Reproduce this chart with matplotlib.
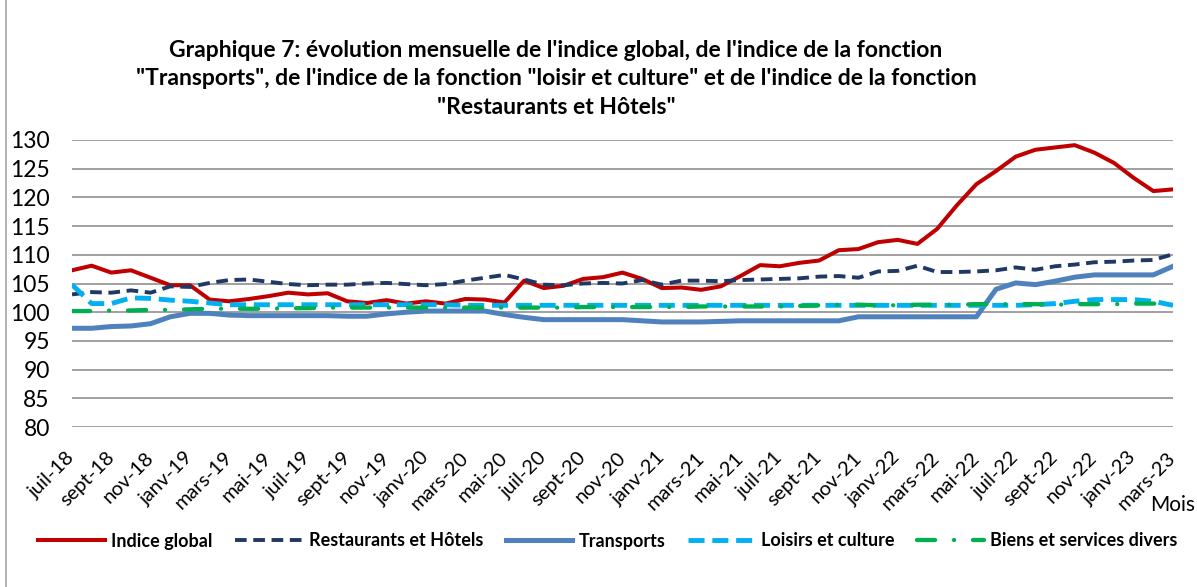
import matplotlib
matplotlib.use('Agg')
import matplotlib.pyplot as plt
from matplotlib.lines import Line2D

plt.rcParams['font.family'] = ['Lato', 'DejaVu Sans']

# Monthly index values, juil-18 .. mars-23
indice_global = [107.3, 108.1, 106.9, 107.3, 106.0, 104.7, 104.7, 102.2, 101.9, 102.3,
                 102.8, 103.4, 103.1, 103.3, 101.9, 101.6, 102.1, 101.5, 101.9, 101.5,
                 102.3, 102.2, 101.7, 105.5, 104.2, 104.6, 105.8, 106.1, 106.9, 105.8,
                 104.2, 104.3, 103.9, 104.5, 106.3, 108.2, 108.0, 108.6, 109.0, 110.8,
                 111.0, 112.2, 112.6, 111.9, 114.5, 118.6, 122.3, 124.6, 127.1, 128.3,
                 128.7, 129.1, 127.8, 126.0, 123.4, 121.1, 121.4]
restaurants = [103.1, 103.5, 103.4, 103.8, 103.4, 104.5, 104.4, 105.1, 105.6, 105.7,
               105.3, 104.9, 104.7, 104.8, 104.8, 105.0, 105.1, 104.9, 104.7, 104.9,
               105.5, 106.0, 106.5, 105.7, 104.8, 104.7, 105.0, 105.1, 105.0, 105.6,
               104.8, 105.5, 105.5, 105.4, 105.6, 105.7, 105.8, 105.9, 106.2, 106.3,
               106.0, 107.1, 107.2, 108.1, 107.0, 107.0, 107.1, 107.3, 107.8, 107.4,
               108.0, 108.3, 108.7, 108.8, 109.0, 109.1, 110.1]
transports = [97.2, 97.2, 97.5, 97.6, 98.0, 99.2, 99.8, 99.8, 99.5, 99.4,
              99.4, 99.4, 99.4, 99.4, 99.3, 99.3, 99.7, 100.0, 100.2, 100.2,
              100.2, 100.2, 99.6, 99.1, 98.7, 98.7, 98.7, 98.7, 98.7, 98.5,
              98.3, 98.3, 98.3, 98.4, 98.5, 98.5, 98.5, 98.5, 98.5, 98.5,
              99.2, 99.2, 99.2, 99.2, 99.2, 99.2, 99.2, 104.0, 105.1, 104.8,
              105.4, 106.1, 106.5, 106.5, 106.5, 106.5, 108.0]
loisirs = [104.8, 101.5, 101.5, 102.5, 102.4, 102.1, 101.9, 101.6, 101.3, 101.3,
           101.3, 101.3, 101.3, 101.3, 101.3, 101.3, 101.3, 101.3, 101.3, 101.3,
           101.2, 101.2, 101.2, 101.2, 101.2, 101.2, 101.2, 101.2, 101.2, 101.2,
           101.2, 101.2, 101.2, 101.2, 101.2, 101.2, 101.2, 101.2, 101.2, 101.2,
           101.2, 101.2, 101.2, 101.2, 101.2, 101.2, 101.2, 101.2, 101.2, 101.3,
           101.5, 101.9, 102.2, 102.2, 102.2, 101.9, 101.2]
biens = [100.2, 100.2, 100.3, 100.3, 100.4, 100.4, 100.5, 100.6, 100.6, 100.6,
         100.6, 100.7, 100.7, 100.8, 100.8, 100.8, 100.8, 100.8, 100.8, 100.8,
         100.8, 100.8, 100.8, 100.8, 100.8, 100.8, 100.9, 100.9, 100.9, 100.9,
         100.9, 100.9, 101.0, 101.0, 101.0, 101.0, 101.0, 101.1, 101.2, 101.3,
         101.3, 101.2, 101.2, 101.3, 101.3, 101.3, 101.4, 101.4, 101.4, 101.4,
         101.3, 101.4, 101.4, 101.4, 101.5, 101.5, 101.5]

# shown every second month
tick_labels = ['juil-18', 'sept-18', 'nov-18', 'janv-19', 'mars-19', 'mai-19', 'juil-19',
               'sept-19', 'nov-19', 'janv-20', 'mars-20', 'mai-20', 'juil-20', 'sept-20',
               'nov-20', 'janv-21', 'mars-21', 'mai-21', 'juil-21', 'sept-21', 'nov-21',
               'janv-22', 'mars-22', 'mai-22', 'juil-22', 'sept-22', 'nov-22', 'janv-23',
               'mars-23']

x = list(range(len(indice_global)))

fig = plt.figure(figsize=(11.97, 5.87), dpi=100)
ax = fig.add_axes([72 / 1197, 1 - 427 / 587, (1173 - 72) / 1197, (427 - 140) / 587])

ax.plot(x, indice_global, color='#C00000', lw=2.9, label='Indice global')
ax.plot(x, restaurants, color='#1F3864', lw=2.8, linestyle=(0, (3, 1.7)),
        label='Restaurants et Hôtels')
ax.plot(x, transports, color='#4F81BD', lw=3.6, label='Transports')
ax.plot(x, loisirs, color='#00B0F0', lw=3.5, linestyle=(0, (3.3, 1.6)),
        label='Loisirs et culture')
ax.plot(x, biens, color='#00B050', lw=3.1, linestyle=(0, (4.2, 4.4, 0.01, 4.4)),
        dash_capstyle='round', label='Biens et services divers')

ax.set_xlim(0, len(x) - 1)
ax.set_ylim(80, 130)
ax.set_yticks(range(80, 131, 5))
ax.set_xticks(range(0, len(x), 2))
ax.set_xticklabels(tick_labels, rotation=45, ha='right', va='center',
                   rotation_mode='anchor', fontsize=14.5)
ax.tick_params(axis='x', length=0, pad=20)
ax.tick_params(axis='y', length=0, pad=16, labelsize=16.5)
ax.grid(axis='y', color='#A0A0A0', lw=1.4)
ax.set_axisbelow(True)
for s in ax.spines.values():
    s.set_visible(False)

fig.text(0.4645, 0.866,
         "Graphique 7: évolution mensuelle de l'indice global, de l'indice de la fonction\n"
         "\"Transports\", de l'indice de la fonction \"loisir et culture\" et de l'indice de la fonction\n"
         "\"Restaurants et Hôtels\"",
         ha='center', va='center', fontsize=16.5, fontweight='bold', linespacing=1.45)

fig.text(1150 / 1197, 1 - 505 / 587, 'Mois', ha='left', va='center', fontsize=15)

fig.legend(loc='center', bbox_to_anchor=(0.508, 1 - 541 / 587), ncol=5, frameon=False,
           prop={'weight': 'bold', 'size': 13}, handlelength=3.7,
           columnspacing=1.25, handletextpad=0.35)

fig.add_artist(Line2D([6 / 1197, 6 / 1197], [0, 1], color='#A6A6A6', lw=1.2))

fig.savefig('out.png', dpi=100)
